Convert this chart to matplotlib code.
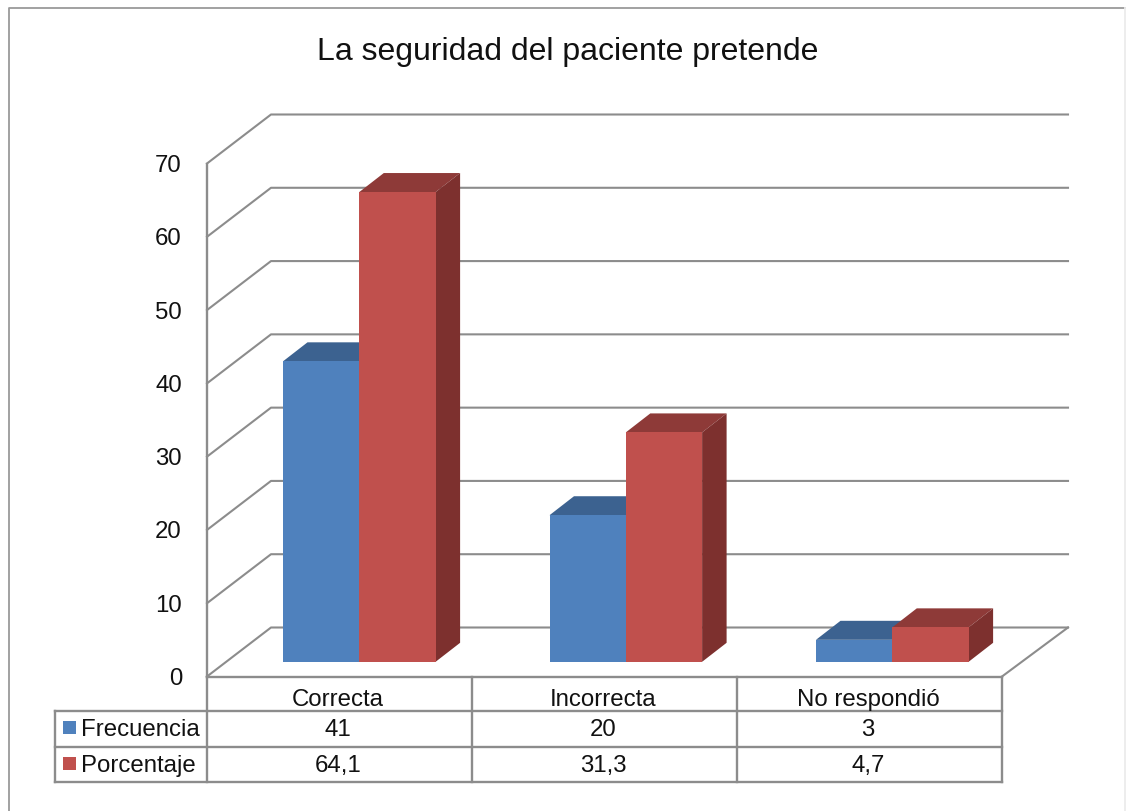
"""
La seguridad del paciente pretende - columnas 3D con tabla de datos
"""
import matplotlib
matplotlib.use("Agg")
import matplotlib.pyplot as plt
from matplotlib.patches import Polygon, Rectangle

categorias = ["Correcta", "Incorrecta", "No respondió"]
frecuencia = [41, 20, 3]
porcentaje = [64.1, 31.3, 4.7]
frecuencia_txt = ["41", "20", "3"]
porcentaje_txt = ["64,1", "31,3", "4,7"]
ticks_y = [0, 10, 20, 30, 40, 50, 60, 70]

W, H = 1126, 811
GRIS = "#8c8c8c"
TEXTO = "#111111"
AZUL = ("#4f81bd", "#3c6290", "#2f4f75")
ROJO = ("#c0504d", "#8e3a38", "#7d302e")

plt.rcParams["font.family"] = ["Liberation Sans", "DejaVu Sans"]

fig = plt.figure(figsize=(W / 100, H / 100), dpi=100, facecolor="white")

# capa en pixeles para marco, titulo y tabla
capa = fig.add_axes([0, 0, 1, 1])
capa.set_xlim(0, W)
capa.set_ylim(H, 0)
capa.axis("off")

# ejes del grafico: x en categorias, y en valores
x0, x1, y0, y1 = 207, 1002, 676.5, 163.5
ax = fig.add_axes([x0 / W, 1 - y0 / H, (x1 - x0) / W, (y0 - y1) / H])
ax.set_xlim(0, 3)
ax.set_ylim(0, 70)
ax.patch.set_alpha(0)
for s in ax.spines.values():
    s.set_visible(False)
ax.set_xticks([])
ax.set_yticks(ticks_y)
ax.tick_params(axis="y", length=0, pad=18, labelsize=17.3, labelcolor=TEXTO)

px_x = 3 / (x1 - x0)
px_y = 70 / (y0 - y1)


def pared_y_piso():
    fondo_x, fondo_y = 64 * px_x, 49 * px_y
    fin = 3 + 2 * px_x
    for t in ticks_y:
        ax.plot([0, fondo_x, fin + fondo_x], [t, t + fondo_y, t + fondo_y],
                color=GRIS, lw=1.5, clip_on=False, zorder=1)
    ax.plot([0, 0], [0, 70], color=GRIS, lw=1.7, clip_on=False, zorder=1)
    ax.plot([3, fin + fondo_x], [0, fondo_y], color=GRIS, lw=1.5, clip_on=False, zorder=1)


def barra(x, valor, ancho, colores, orden):
    base = 14.7 * px_y
    dx, dy = 24.5 * px_x, 19 * px_y
    alto = base + valor
    frente, arriba, lado = colores
    ax.add_patch(Polygon([(x, alto), (x + dx, alto + dy), (x + ancho + dx, alto + dy), (x + ancho, alto)],
                         closed=True, fc=arriba, ec="none", clip_on=False, zorder=orden))
    ax.add_patch(Polygon([(x + ancho, base), (x + ancho + dx, base + dy), (x + ancho + dx, alto + dy), (x + ancho, alto)],
                         closed=True, fc=lado, ec="none", clip_on=False, zorder=orden))
    ax.add_patch(Rectangle((x, base), ancho, valor, fc=frente, ec="none", clip_on=False, zorder=orden + 0.1))


def tabla():
    filas = [676.5, 710.5, 746.5, 782]
    columnas = [207, 472, 737, 1002]
    kw = dict(color=GRIS, lw=1.7, solid_capstyle="projecting")
    capa.plot([207, 1002], [filas[0], filas[0]], **kw)
    for f in filas[1:]:
        capa.plot([55, 1002], [f, f], **kw)
    capa.plot([55, 55], [filas[1], filas[3]], **kw)
    for c in columnas:
        capa.plot([c, c], [filas[0], filas[3]], **kw)

    txt = dict(ha="center", va="baseline", fontsize=17.3, color=TEXTO)
    for i, cat in enumerate(categorias):
        cx = (columnas[i] + columnas[i + 1]) / 2
        capa.text(cx - 1.5, 706, cat, **txt)
        capa.text(cx - 1.5, 736, frecuencia_txt[i], **txt)
        capa.text(cx - 1.5, 772, porcentaje_txt[i], **txt)

    capa.add_patch(Rectangle((63, 721), 13, 13, fc=AZUL[0], ec="none"))
    capa.add_patch(Rectangle((63, 757), 13, 13, fc=ROJO[0], ec="none"))
    capa.text(81, 736, "Frecuencia", ha="left", va="baseline", fontsize=17.3, color=TEXTO)
    capa.text(81, 772, "Porcentaje", ha="left", va="baseline", fontsize=17.3, color=TEXTO)


# marco exterior, el borde derecho es casi blanco
capa.plot([9, 9, 1125], [811, 8, 8], color="#9a9a9a", lw=1.3)
capa.plot([1125, 1125], [8, 811], color="#ececec", lw=1.3)
capa.text(568, 60, "La seguridad del paciente pretende", ha="center", va="baseline",
          fontsize=23, color=TEXTO)

pared_y_piso()
inicio = 76 * px_x
ancho = 76.3 * px_x
paso = 266.5 * px_x
for i in range(len(categorias)):
    barra(i * paso + inicio, frecuencia[i], ancho, AZUL, 3 + i)
    barra(i * paso + inicio + ancho, porcentaje[i], ancho, ROJO, 3.5 + i)
tabla()

plt.savefig("out.png", dpi=100)
plt.close()
